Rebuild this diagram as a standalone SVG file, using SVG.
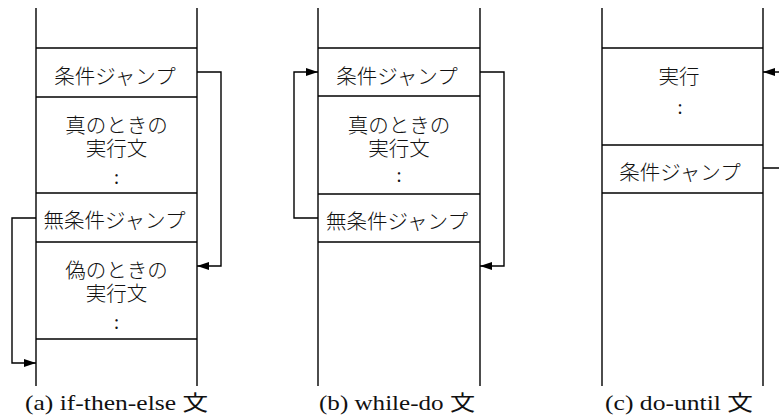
<svg xmlns="http://www.w3.org/2000/svg" width="779" height="419" viewBox="0 0 779 419">
<defs>
<marker id="ah" markerWidth="12" markerHeight="8" refX="12" refY="4" orient="auto" markerUnits="userSpaceOnUse">
<path d="M0,0 L12,4 L0,8 Z" fill="#000"/>
</marker>
<style>
.ln{stroke:#000;stroke-width:1.4;fill:none}
.cn{stroke:#000;stroke-width:1.4;fill:none;marker-end:url(#ah)}
.jp{font-family:"Noto Sans CJK JP","Noto Sans CJK SC",sans-serif;font-size:20.5px;font-weight:300;text-anchor:middle;fill:#111}
.dot{font-family:"Liberation Serif",serif;font-size:20px;text-anchor:middle;fill:#111}
.cap{font-family:"Liberation Serif","Noto Sans CJK JP",serif;font-size:21px;fill:#111}
</style>
</defs>
<rect width="779" height="419" fill="#fff"/>

<g id="panel-a">
<line class="ln" x1="36" y1="8" x2="36" y2="386"/>
<line class="ln" x1="197" y1="8" x2="197" y2="386"/>
<line class="ln" x1="36" y1="48" x2="197" y2="48"/>
<line class="ln" x1="36" y1="97" x2="197" y2="97"/>
<line class="ln" x1="36" y1="193" x2="197" y2="193"/>
<line class="ln" x1="36" y1="242" x2="197" y2="242"/>
<line class="ln" x1="36" y1="339" x2="197" y2="339"/>
<g id="a-cond"><text class="jp" x="115" y="83.5">条件ジャンプ</text></g>
<g id="a-true"><text class="jp" x="116.5" y="132.5">真のときの<tspan x="116.5" dy="23">実行文</tspan></text><text class="dot" x="116.5" y="184">:</text></g>
<g id="a-uncond"><text class="jp" x="114.5" y="228">無条件ジャンプ</text></g>
<g id="a-false"><text class="jp" x="116.5" y="277.5">偽のときの<tspan x="116.5" dy="23">実行文</tspan></text><text class="dot" x="116.5" y="329">:</text></g>
<text class="cap" x="25" y="410" textLength="183" lengthAdjust="spacingAndGlyphs">(a) if-then-else 文</text>
</g>

<g id="panel-b">
<line class="ln" x1="318" y1="8" x2="318" y2="386"/>
<line class="ln" x1="480" y1="8" x2="480" y2="386"/>
<line class="ln" x1="318" y1="48" x2="480" y2="48"/>
<line class="ln" x1="318" y1="96" x2="480" y2="96"/>
<line class="ln" x1="318" y1="194" x2="480" y2="194"/>
<line class="ln" x1="318" y1="242" x2="480" y2="242"/>
<g id="b-cond"><text class="jp" x="397" y="83.5">条件ジャンプ</text></g>
<g id="b-body"><text class="jp" x="399" y="132.5">真のときの<tspan x="399" dy="23">実行文</tspan></text><text class="dot" x="399" y="182">:</text></g>
<g id="b-uncond"><text class="jp" x="397" y="228.5">無条件ジャンプ</text></g>
<text class="cap" x="319" y="410" textLength="156" lengthAdjust="spacingAndGlyphs">(b) while-do 文</text>
</g>

<g id="panel-c">
<line class="ln" x1="602" y1="8" x2="602" y2="386"/>
<line class="ln" x1="763" y1="8" x2="763" y2="386"/>
<line class="ln" x1="602" y1="48" x2="763" y2="48"/>
<line class="ln" x1="602" y1="145" x2="763" y2="145"/>
<line class="ln" x1="602" y1="193" x2="763" y2="193"/>
<g id="c-body"><text class="jp" x="679" y="83.5">実行</text><text class="dot" x="680" y="114">:</text></g>
<g id="c-cond"><text class="jp" x="680" y="179.5">条件ジャンプ</text></g>
<text class="cap" x="605" y="410" textLength="148" lengthAdjust="spacingAndGlyphs">(c) do-until 文</text>
</g>

<g id="connectors">
<polyline class="cn" points="197,72 221,72 221,266 197,266"/>
<polyline class="cn" points="36,218 12,218 12,363 36,363"/>
<polyline class="cn" points="480,72 504,72 504,266 480,266"/>
<polyline class="cn" points="318,218 294,218 294,72 318,72"/>
<polyline class="cn" points="763,168 790,168 790,72 763,72"/>
</g>
</svg>
